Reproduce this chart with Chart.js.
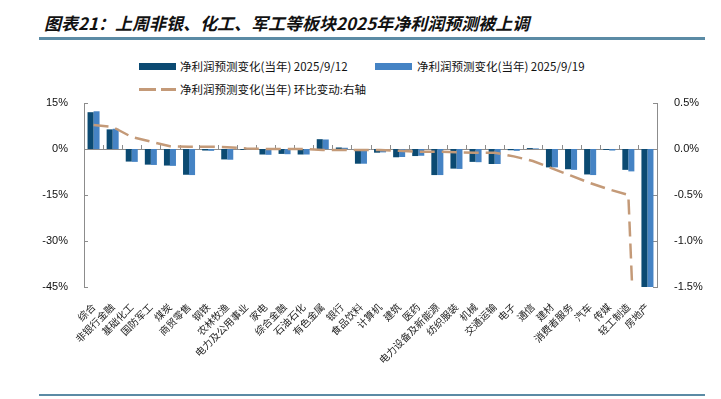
<!DOCTYPE html>
<html>
<head>
<meta charset="utf-8">
<script src="https://cdn.jsdelivr.net/npm/chart.js@4.4.1/dist/chart.umd.min.js"></script>
<style>
  html, body { margin: 0; padding: 0; background: #fff; }
  #wrap { position: relative; width: 721px; height: 399px; overflow: hidden; }
  #chart { position: absolute; left: 0; top: 0; }
  .title { position: absolute; left: 44px; top: 10px; font: italic bold 17px "Noto Sans CJK SC", sans-serif; color: #111; white-space: nowrap; }
  .rule { position: absolute; left: 39px; width: 666px; height: 3px; background: #5b8ba5; }
  .leg { position: absolute; font: 11.5px "Noto Sans CJK SC", "Liberation Sans", sans-serif; color: #111; white-space: nowrap; line-height: 14px; }
  .sw { position: absolute; width: 37px; height: 7px; }
  .dash { position: absolute; height: 3px; width: 37px; background: linear-gradient(to right, #c49a78 0 17px, transparent 17px 22px, #c49a78 22px 37px); }
</style>
</head>
<body>
<div id="wrap">
  <div class="title">图表21：上周非银、化工、军工等板块2025年净利润预测被上调</div>
  <div class="rule" style="top:37px"></div>
  <div class="sw" style="left:139px; top:63px; background:#0b4a72"></div>
  <div class="leg" style="left:180px; top:59px">净利润预测变化(当年) 2025/9/12</div>
  <div class="sw" style="left:375px; top:63px; background:#4583c4"></div>
  <div class="leg" style="left:417px; top:59px">净利润预测变化(当年) 2025/9/19</div>
  <div class="dash" style="left:139px; top:88px"></div>
  <div class="leg" style="left:180px; top:82px">净利润预测变化(当年) 环比变动:右轴</div>
  <canvas id="chart" width="721" height="399"></canvas>
  <div class="rule" style="top:394px; height:2px"></div>
</div>
<script>
const categories = ['综合', '非银行金融', '基础化工', '国防军工', '煤炭', '商贸零售', '钢铁', '农林牧渔', '电力及公用事业', '家电',
  '综合金融', '石油石化', '有色金属', '银行', '食品饮料', '计算机', '建筑', '医药', '电力设备及新能源', '纺织服装',
  '机械', '交通运输', '电子', '通信', '建材', '消费者服务', '汽车', '传媒', '轻工制造', '房地产'];

// 净利润预测变化(当年), %
const forecast0912 = [12.0, 6.4, -4.1, -5.1, -5.4, -8.4, -0.5, -3.4, -0.3, -1.8,
  -1.6, -1.8, 3.2, 0.5, -4.8, -1.2, -2.7, -2.3, -8.5, -6.4,
  -4.2, -4.9, -0.4, 0.3, -6.0, -6.6, -8.3, -0.3, -6.8, -46];
const forecast0919 = [12.3, 6.6, -4.2, -5.2, -5.5, -8.5, -0.6, -3.5, -0.2, -1.9,
  -1.7, -1.8, 3.1, 0.4, -4.8, -1.1, -2.6, -2.2, -8.5, -6.5,
  -4.3, -4.9, -0.6, 0.2, -6.0, -6.8, -8.5, -0.5, -7.3, -46];
// 环比变动 (right axis), %
const weeklyChange = [0.26, 0.24, 0.13, 0.08, 0.03, 0.025, 0.025, 0.02, 0.005, 0.0,
  0.0, 0.0, -0.01, -0.01, -0.01, -0.01, -0.02, -0.03, -0.03, -0.035,
  -0.04, -0.04, -0.08, -0.13, -0.21, -0.29, -0.37, -0.44, -0.5, -5.5];

const leftTicks = [15, 0, -15, -30, -45];
const rightTicks = [0.5, 0, -0.5, -1.0, -1.5];

const AXIS = '#8c8c8c';

// inward tick marks on both value axes and boundary ticks on the zero line
const axisMarks = {
  id: 'axisMarks',
  beforeDatasetsDraw(chart) {
    const { ctx, chartArea: a, scales } = chart;
    const x = scales.x, y = scales.y, y1 = scales.y1;
    const y0 = y.getPixelForValue(0);
    ctx.save();
    ctx.strokeStyle = AXIS;
    ctx.lineWidth = 1;
    ctx.beginPath();
    ctx.moveTo(a.left, y0 + 0.5);
    ctx.lineTo(a.right, y0 + 0.5);
    for (let i = 0; i <= categories.length; i++) {
      const px = Math.round(x.getPixelForValue(i - 0.5)) + 0.5;
      ctx.moveTo(px, y0);
      ctx.lineTo(px, y0 - 4);
    }
    leftTicks.forEach(v => {
      const py = Math.round(y.getPixelForValue(v)) + 0.5;
      ctx.moveTo(a.left, py);
      ctx.lineTo(a.left + 4, py);
    });
    rightTicks.forEach(v => {
      const py = Math.round(y1.getPixelForValue(v)) + 0.5;
      ctx.moveTo(a.right, py);
      ctx.lineTo(a.right - 4, py);
    });
    ctx.stroke();
    ctx.restore();
  }
};

new Chart(document.getElementById('chart'), {
  type: 'bar',
  data: {
    labels: categories,
    datasets: [
      {
        type: 'line',
        label: '净利润预测变化(当年) 环比变动:右轴',
        data: weeklyChange,
        yAxisID: 'y1',
        borderColor: '#c49a78',
        borderWidth: 2.5,
        borderDash: [15, 7],
        pointRadius: 0,
        tension: 0,
        fill: false,
        order: 0
      },
      {
        label: '净利润预测变化(当年) 2025/9/12',
        data: forecast0912,
        backgroundColor: '#0b4a72',
        yAxisID: 'y',
        order: 1
      },
      {
        label: '净利润预测变化(当年) 2025/9/19',
        data: forecast0919,
        backgroundColor: '#4583c4',
        yAxisID: 'y',
        order: 1
      }
    ]
  },
  options: {
    responsive: false,
    animation: false,
    devicePixelRatio: 1,
    layout: { padding: { top: 103, left: 0, right: 0, bottom: 0 } },
    datasets: { bar: { categoryPercentage: 0.63, barPercentage: 1.0 } },
    plugins: { legend: { display: false }, title: { display: false }, tooltip: { enabled: false } },
    scales: {
      x: {
        grid: { display: false },
        border: { display: false },
        ticks: {
          autoSkip: false, minRotation: 45, maxRotation: 45, padding: 6,
          color: '#222', font: { family: '"Noto Sans CJK SC", sans-serif', size: 10 }
        },
        afterFit(s) { s.height = 112; }
      },
      y: {
        position: 'left',
        min: -45, max: 15,
        afterBuildTicks(s) { s.ticks = leftTicks.map(v => ({ value: v })); },
        grid: { display: false },
        border: { display: true, color: AXIS, width: 1 },
        ticks: {
          padding: 8, color: '#111',
          font: { family: '"Liberation Sans", Arial, sans-serif', size: 11 },
          callback: v => v + '%'
        },
        afterFit(s) { s.width = 84; }
      },
      y1: {
        position: 'right',
        min: -1.5, max: 0.5,
        afterBuildTicks(s) { s.ticks = rightTicks.map(v => ({ value: v })); },
        grid: { display: false },
        border: { display: true, color: AXIS, width: 1 },
        ticks: {
          padding: 9, color: '#111',
          font: { family: '"Liberation Sans", Arial, sans-serif', size: 11 },
          callback: v => v.toFixed(1) + '%'
        },
        afterFit(s) { s.width = 64; }
      }
    }
  },
  plugins: [axisMarks]
});
</script>
</body>
</html>
